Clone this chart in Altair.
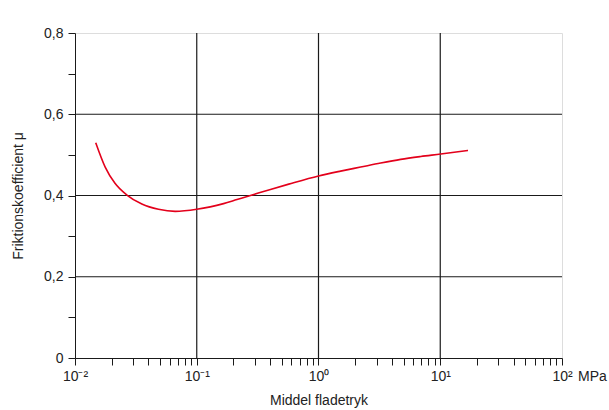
import altair as alt
import pandas as pd

# Curve data
pressure = [0.0148, 0.0177, 0.0213, 0.0267, 0.0354, 0.0485, 0.0665, 0.1, 0.129,
            0.166, 0.214, 0.276, 0.403, 0.570, 1.0, 1.52, 2.22, 3.24, 4.73, 6.92,
            10.1, 16.9]
mu = [0.530, 0.470, 0.430, 0.401, 0.379, 0.366, 0.361, 0.366, 0.372,
      0.380, 0.390, 0.400, 0.415, 0.428, 0.448, 0.460, 0.470, 0.480, 0.489, 0.496,
      0.502, 0.511]

x_decades = [0.01, 0.1, 1, 10, 100]
x_decade_labels = ["10⁻²", "10⁻¹", "10⁰", "10¹", "10²"]
x_minor = [m * d for d in [0.01, 0.1, 1, 10] for m in range(2, 10)]
x_ticks = sorted(x_decades + x_minor)

y_ticks = [0, 0.1, 0.2, 0.3, 0.4, 0.5, 0.6, 0.7, 0.8]
y_grid = [0.2, 0.4, 0.6]
y_labels = {0: "0", 0.2: "0,2", 0.4: "0,4", 0.6: "0,6", 0.8: "0,8"}

FONT = "Liberation Sans"
TXT = "#222222"
LINE = "#1a1a1a"

df = pd.DataFrame({"p": pressure, "mu": mu})

label_expr = " : ".join(
    f"abs(datum.value - {v}) < {v}*1e-6 ? '{l}'" for v, l in zip(x_decades, x_decade_labels)
) + " : ''"
ylabel_expr = " : ".join(
    f"abs(datum.value - {v}) < 1e-6 ? '{l}'" for v, l in y_labels.items()
) + " : ''"

xscale = alt.Scale(type="log", domain=[0.01, 100], nice=False)
yscale = alt.Scale(domain=[0, 0.8], nice=False)

xaxis = alt.Axis(values=x_ticks, labelExpr=label_expr, grid=False, tickSize=7,
                 tickColor=LINE, domainColor=LINE, labelFont=FONT, labelFontSize=14,
                 labelColor=TXT, labelPadding=4, title="Middel fladetryk",
                 titleFont=FONT, titleFontSize=14, titleFontWeight="normal",
                 titleColor=TXT, titlePadding=10, labelFlush=False)
yaxis = alt.Axis(values=y_ticks, labelExpr=ylabel_expr, grid=False, tickSize=7,
                 tickColor=LINE, domainColor=LINE, labelFont=FONT, labelFontSize=14,
                 labelColor=TXT, labelPadding=5, title="Friktionskoefficient μ",
                 titleFont=FONT, titleFontSize=14, titleFontWeight="normal",
                 titleColor=TXT, titlePadding=18)

curve = alt.Chart(df).mark_line(color="#e3001b", strokeWidth=1.6, interpolate="monotone").encode(
    x=alt.X("p:Q", scale=xscale, axis=xaxis),
    y=alt.Y("mu:Q", scale=yscale, axis=yaxis),
)

vgrid = alt.Chart(pd.DataFrame({"g": x_decades[1:4]})).mark_rule(color=LINE, strokeWidth=1.2).encode(
    x=alt.X("g:Q", scale=xscale)
)
hgrid = alt.Chart(pd.DataFrame({"g": y_grid})).mark_rule(color=LINE, strokeWidth=1.2).encode(
    y=alt.Y("g:Q", scale=yscale)
)
unit = alt.Chart(pd.DataFrame({"p": [100], "mu": [0], "t": ["MPa"]})).mark_text(
    font=FONT, fontSize=14, color=TXT, align="left", baseline="top", dx=16, dy=12
).encode(x=alt.X("p:Q", scale=xscale), y=alt.Y("mu:Q", scale=yscale), text="t:N")

chart = alt.layer(vgrid, hgrid, curve, unit).properties(
    width=487, height=325,
    autosize=alt.AutoSizeParams(type="none"),
    padding={"left": 75, "top": 33, "right": 47, "bottom": 52},
).configure_view(stroke=LINE, strokeWidth=1.2).configure(background="white")

chart.save("out.html", embed_options={"renderer": "svg", "actions": False})
